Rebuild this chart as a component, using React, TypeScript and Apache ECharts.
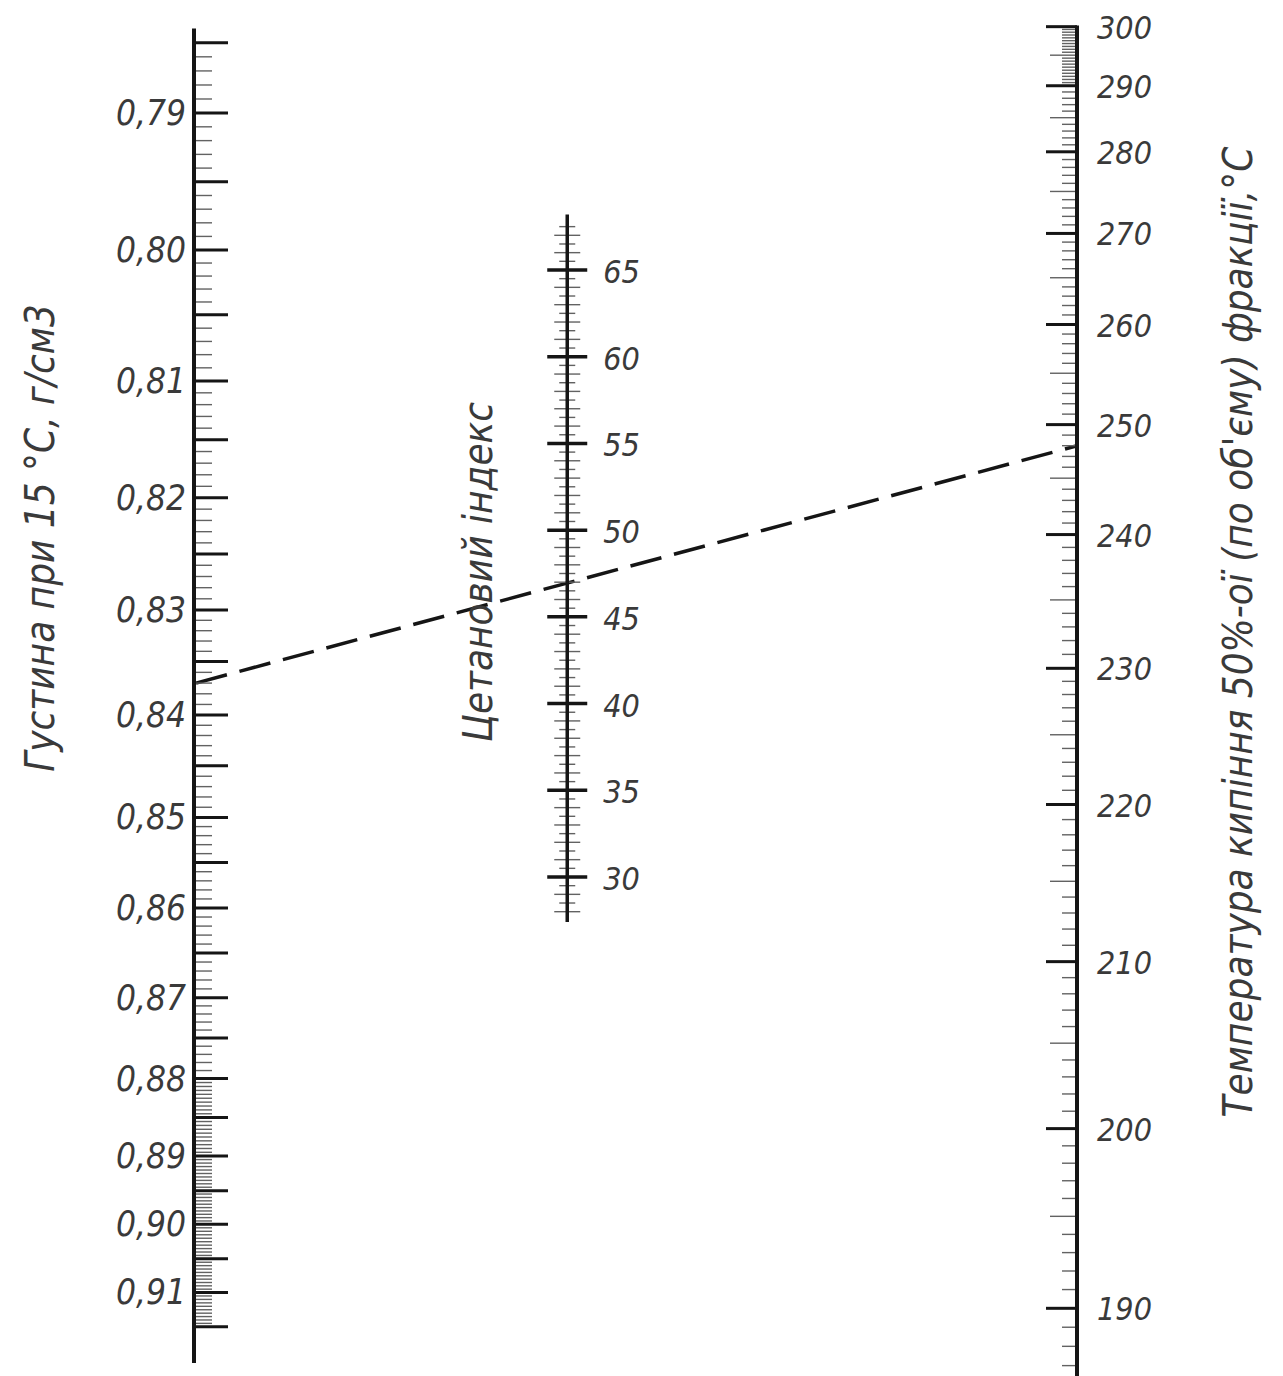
import React, { useEffect, useRef } from 'react';
import * as echarts from 'echarts';

// ---- Nomogram data (ASTM D976 style: CI = densityTerm + temperatureTerm) ----
// Density scale, g/cm3: long ticks (every 0.005) and their cetane-index term
const densityMarks = [
  0.785, 0.79, 0.795, 0.8, 0.805, 0.81, 0.815, 0.82, 0.825, 0.83, 0.835, 0.84, 0.845, 0.85,
  0.855, 0.86, 0.865, 0.87, 0.875, 0.88, 0.885, 0.89, 0.895, 0.9, 0.905, 0.91, 0.915,
];
const densityTermRead = [
  -355.23, -357.57, -359.86, -362.13, -364.29, -366.49, -368.45, -370.38, -372.25, -374.11,
  -375.83, -377.61, -379.3, -381.02, -382.52, -384.03, -385.53, -387.02, -388.36, -389.71,
  -391.01, -392.29, -393.44, -394.56, -395.71, -396.83, -397.97,
];
const densityLabelValues = [0.79, 0.8, 0.81, 0.82, 0.83, 0.84, 0.85, 0.86, 0.87, 0.88, 0.89, 0.9, 0.91];
const densityLabels = ['0,79', '0,80', '0,81', '0,82', '0,83', '0,84', '0,85', '0,86', '0,87', '0,88', '0,89', '0,90', '0,91'];

// Cetane index scale (linear)
const cetaneLabelValues = [30, 35, 40, 45, 50, 55, 60, 65];
const cetaneLabels = ['30', '35', '40', '45', '50', '55', '60', '65'];

// 50 % distillation temperature, °C: labelled ticks and their cetane-index term
const tempMarks = [190, 200, 210, 220, 230, 240, 250, 260, 270, 280, 290, 300];
const tempTermRead = [402.49, 406.87, 410.94, 414.77, 418.09, 421.35, 424.03, 426.47, 428.69, 430.68, 432.29, 433.73];
const tempLabels = ['190', '200', '210', '220', '230', '240', '250', '260', '270', '280', '290', '300'];

// Worked example (dashed key line)
const exampleDensity = 0.837;
const exampleTemp = 248;

// ---- scale functions: D976 terms corrected by the readings ----
const d976Density = (d: number) => 454.74 - 1641.416 * d + 774.74 * d * d;
const d976Temp = (b: number) => 97.803 * Math.pow(Math.log10(b), 2) - 0.554 * b;

function makeScale(xs: number[], ys: number[], base: (v: number) => number) {
  const res = xs.map((x, i) => ys[i] - base(x));
  return (v: number) => {
    let i = 0;
    while (i < xs.length - 2 && v > xs[i + 1]) i++;
    const f = (v - xs[i]) / (xs[i + 1] - xs[i]);
    return base(v) + res[i] + f * (res[i + 1] - res[i]);
  };
}
const densityScale = makeScale(densityMarks, densityTermRead, d976Density);
const tempScale = makeScale(tempMarks, tempTermRead, d976Temp);

const MID_X = 0.4227; // position of the cetane scale between the outer scales
const INK = '#151515';
const MINOR = '#626262';
const TEXT = '#3a3a3a';
const FONT = "'DejaVu Sans Condensed', 'Liberation Sans Narrow', 'DejaVu Sans', sans-serif";

export default function App() {
  const ref = useRef<HTMLDivElement>(null);
  useEffect(() => {
    document.body.style.margin = '0';
    const chart = echarts.init(ref.current!, null, { renderer: 'svg' });

    // ticks
    const densityTicks: number[][] = [];
    for (let k = 1570; k <= 1830; k++) {
      if (k < 1760 && k % 2 !== 0) continue;
      densityTicks.push([0, densityScale(k / 2000), k % 10 === 0 ? 2 : 0]);
    }
    const cetaneTicks: number[][] = [];
    for (let k = 56; k <= 135; k++) {
      cetaneTicks.push([MID_X, k / 2, k % 10 === 0 ? 2 : k % 2 === 0 ? 1 : 0]);
    }
    const tempTicks: number[][] = [];
    for (let k = 374; k <= 600; k++) {
      const v = k / 2;
      if (v < 290 && k % 2 !== 0) continue;
      tempTicks.push([1, tempScale(v), k % 20 === 0 ? 2 : k % 10 === 0 ? 1 : 0]);
    }

    const txt = (size: number) => ({
      fill: TEXT, fontSize: size, fontFamily: FONT, fontStyle: 'italic', fontWeight: 300,
    });

    const option: any = {
      animation: false,
      backgroundColor: '#fff',
      grid: { left: 194, right: 206, top: 0, bottom: 0 },
      xAxis: { type: 'value', min: 0, max: 1, show: false },
      yAxis: [
        { type: 'value', min: -399.61, max: -353.81, show: false },
        { type: 'value', min: 1.228, max: 80.568, show: false },
        { type: 'value', min: 400.84, max: 434.38, show: false },
      ],
      series: [
        {
          type: 'line', yAxisIndex: 0, silent: true, symbol: 'none',
          data: [[0, densityScale(0.784)], [0, densityScale(0.9205)]],
          lineStyle: { color: INK, width: 4 },
        },
        {
          type: 'custom', yAxisIndex: 0, silent: true, data: densityTicks,
          renderItem: (_p: any, api: any) => {
            const p = api.coord([api.value(0), api.value(1)]);
            const major = api.value(2) === 2;
            return {
              type: 'line',
              shape: { x1: p[0], y1: p[1], x2: p[0] + (major ? 34 : 18), y2: p[1] },
              style: { stroke: major ? INK : MINOR, lineWidth: major ? 3 : 1.4 },
            };
          },
        },
        {
          type: 'custom', yAxisIndex: 0, silent: true,
          data: densityLabelValues.map((v) => [0, densityScale(v)]),
          renderItem: (params: any, api: any) => {
            const p = api.coord([api.value(0), api.value(1)]);
            return {
              type: 'text', x: p[0] - 8, y: p[1],
              style: { ...txt(35), text: densityLabels[params.dataIndex], align: 'right', verticalAlign: 'middle' },
            };
          },
        },
        {
          type: 'line', yAxisIndex: 1, silent: true, symbol: 'none',
          data: [[MID_X, 27.4], [MID_X, 68.2]],
          lineStyle: { color: INK, width: 3.5 },
        },
        {
          type: 'custom', yAxisIndex: 1, silent: true, data: cetaneTicks,
          renderItem: (_p: any, api: any) => {
            const p = api.coord([api.value(0), api.value(1)]);
            const kind = api.value(2);
            const half = kind === 2 ? 20 : kind === 1 ? 13 : 8;
            return {
              type: 'line',
              shape: { x1: p[0] - half, y1: p[1], x2: p[0] + half, y2: p[1] },
              style: { stroke: kind === 2 ? INK : MINOR, lineWidth: kind === 2 ? 3.5 : 1.4 },
            };
          },
        },
        {
          type: 'custom', yAxisIndex: 1, silent: true,
          data: cetaneLabelValues.map((v) => [MID_X, v]),
          renderItem: (params: any, api: any) => {
            const p = api.coord([api.value(0), api.value(1)]);
            return {
              type: 'text', x: p[0] + 36, y: p[1] + 2,
              style: { ...txt(32), text: cetaneLabels[params.dataIndex], align: 'left', verticalAlign: 'middle' },
            };
          },
        },
        {
          type: 'line', yAxisIndex: 2, silent: true, symbol: 'none',
          data: [[1, tempScale(300.2)], [1, tempScale(184)]],
          lineStyle: { color: INK, width: 4 },
        },
        {
          type: 'custom', yAxisIndex: 2, silent: true, data: tempTicks,
          renderItem: (_p: any, api: any) => {
            const p = api.coord([api.value(0), api.value(1)]);
            const kind = api.value(2);
            const len = kind === 2 ? 31 : kind === 1 ? 27 : 15;
            return {
              type: 'line',
              shape: { x1: p[0], y1: p[1], x2: p[0] - len, y2: p[1] },
              style: { stroke: kind === 2 ? INK : MINOR, lineWidth: kind === 2 ? 3 : 1.4 },
            };
          },
        },
        {
          type: 'custom', yAxisIndex: 2, silent: true,
          data: tempMarks.map((v) => [1, tempScale(v)]),
          renderItem: (params: any, api: any) => {
            const p = api.coord([api.value(0), api.value(1)]);
            return {
              type: 'text', x: p[0] + 20, y: p[1] + 1,
              style: { ...txt(32), text: tempLabels[params.dataIndex], align: 'left', verticalAlign: 'middle' },
            };
          },
        },
      ],
    };
    chart.setOption(option);

    const a = chart.convertToPixel({ seriesIndex: 0 }, [0, densityScale(exampleDensity)]) as number[];
    const b = chart.convertToPixel({ seriesIndex: 6 }, [1, tempScale(exampleTemp)]) as number[];

    chart.setOption({
      graphic: [
        {
          type: 'line', silent: true,
          shape: { x1: a[0] + 2, y1: a[1], x2: b[0], y2: b[1] },
          style: { stroke: INK, lineWidth: 3.5, lineDash: [32, 13] },
        },
        {
          type: 'text', x: 40, y: 538, rotation: Math.PI / 2, silent: true,
          style: { ...txt(40), text: 'Густина при 15 °С, г/см3', align: 'center', verticalAlign: 'middle' },
        },
        {
          type: 'text', x: 478, y: 572, rotation: Math.PI / 2, silent: true,
          style: { ...txt(40), text: 'Цетановий індекс', align: 'center', verticalAlign: 'middle' },
        },
        {
          type: 'text', x: 1238, y: 632, rotation: Math.PI / 2, silent: true,
          style: { ...txt(40), text: "Температура кипіння 50%-ої (по об'єму) фракції,°С", align: 'center', verticalAlign: 'middle' },
        },
      ],
    });

    return () => chart.dispose();
  }, []);
  return <div ref={ref} style={{ width: 1283, height: 1376, background: '#fff' }} />;
}
